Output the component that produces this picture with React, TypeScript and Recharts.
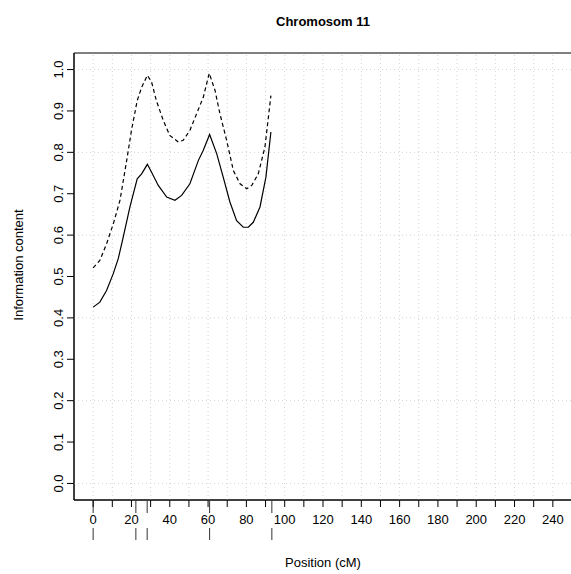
import React from 'react';
import { LineChart, Line, XAxis, YAxis, ReferenceLine, ReferenceArea } from 'recharts';

// information content along chromosome 11 (solid = lower curve, dashed = upper curve)
const solidPos = [0, 3.5, 7, 10.5, 13.1, 15.7, 19.2, 23, 25.3, 28.3, 30.5, 34, 38.4, 42.7, 46.2, 50.5, 54.9, 57.5, 60.8, 64.5, 67.9, 71.4, 74.9, 78.4, 81, 83.6, 87.1, 90.2, 92.8];
const solidInfo = [0.426, 0.438, 0.466, 0.507, 0.543, 0.595, 0.668, 0.736, 0.748, 0.771, 0.752, 0.72, 0.692, 0.684, 0.696, 0.724, 0.78, 0.805, 0.843, 0.797, 0.74, 0.68, 0.635, 0.619, 0.619, 0.631, 0.668, 0.74, 0.849];

const dashedPos = [0, 3.5, 7, 10.5, 14, 17.5, 20, 23, 25.3, 28.3, 30.5, 33, 36.6, 40, 44.5, 47, 50.5, 54, 57.5, 60.6, 63.6, 66.2, 69.7, 73.2, 76.7, 80.2, 82.8, 86.2, 89.7, 92.8];
const dashedInfo = [0.521, 0.539, 0.579, 0.627, 0.684, 0.78, 0.853, 0.925, 0.957, 0.986, 0.97, 0.925, 0.877, 0.841, 0.825, 0.829, 0.853, 0.893, 0.933, 0.991, 0.95, 0.893, 0.829, 0.756, 0.724, 0.712, 0.72, 0.748, 0.813, 0.937];

// marker positions drawn as a rug under the x axis
const markerPos = [0, 22.3, 28.2, 60.8, 93.3];

const xTicks = [0, 10, 20, 30, 40, 50, 60, 70, 80, 90, 100, 110, 120, 130, 140, 150, 160, 170, 180, 190, 200, 210, 220, 230, 240];
const yTicks = [0, 0.1, 0.2, 0.3, 0.4, 0.5, 0.6, 0.7, 0.8, 0.9, 1.0];
const gridX = [0, 10, 20, 30, 40, 50, 60, 70, 80, 90, 100, 110, 120, 130, 140, 150, 160, 170, 180, 190, 200, 210, 220, 230, 240];
const gridY = [0, 0.2, 0.4, 0.6, 0.8, 1.0];

const solidData = solidPos.map((pos, i) => ({ pos, info: solidInfo[i] }));
const dashedData = dashedPos.map((pos, i) => ({ pos, info: dashedInfo[i] }));

const FONT = '"Liberation Sans", Arial, sans-serif';
const X_DOMAIN: [number, number] = [-10, 250];
const Y_DOMAIN: [number, number] = [-0.04, 1.04];

const XTick = (props: any) => {
  const { x, y, payload } = props;
  if (payload.value % 20 !== 0) return <g />;
  return (
    <text x={x} y={y + 14} textAnchor="middle" fontSize={13} fontFamily={FONT} fill="#000">
      {payload.value}
    </text>
  );
};

const YTick = (props: any) => {
  const { x, y, payload } = props;
  const bx = x - 1;
  return (
    <text
      x={bx}
      y={y}
      transform={`rotate(-90 ${bx} ${y})`}
      textAnchor="middle"
      fontSize={13}
      fontFamily={FONT}
      fill="#000"
    >
      {payload.value.toFixed(1)}
    </text>
  );
};

// rug mark: two short segments below the axis, gap where the tick labels sit
const RugShape = (props: any) => {
  const { x1, y1, y2 } = props;
  const base = Math.max(y1, y2);
  return (
    <g stroke="#333" strokeWidth={1}>
      <line x1={x1} x2={x1} y1={base + 1} y2={base + 13} />
      <line x1={x1} x2={x1} y1={base + 28} y2={base + 40} />
    </g>
  );
};

const App: React.FC = () => {
  return (
    <div style={{ position: 'absolute', left: 0, top: 0, width: 571, height: 574, overflow: 'hidden', background: '#fff' }}>
      <LineChart
        width={580}
        height={574}
        margin={{ top: 53, right: 8, bottom: 0, left: 24 }}
        style={{ fontFamily: FONT }}
      >
        <XAxis
          dataKey="pos"
          type="number"
          domain={X_DOMAIN}
          ticks={xTicks}
          interval={0}
          height={74}
          tickSize={7}
          tickMargin={3}
          stroke="#000"
          tick={<XTick />}
        />
        <YAxis
          type="number"
          domain={Y_DOMAIN}
          ticks={yTicks}
          interval={0}
          width={50}
          tickSize={7}
          tickMargin={3}
          stroke="#000"
          tick={<YTick />}
        />
        {gridX.map((v) => (
          <ReferenceLine key={`gx-${v}`} x={v} stroke="#d3d3d3" strokeDasharray="1 3" />
        ))}
        {gridY.map((v) => (
          <ReferenceLine key={`gy-${v}`} y={v} stroke="#d3d3d3" strokeDasharray="1 3" />
        ))}
        <ReferenceArea
          x1={X_DOMAIN[0]}
          x2={X_DOMAIN[1]}
          y1={Y_DOMAIN[0]}
          y2={Y_DOMAIN[1]}
          fill="none"
          fillOpacity={0}
          stroke="#000"
          strokeWidth={1}
          ifOverflow="visible"
        />
        {markerPos.map((m) => (
          <ReferenceLine key={`rug-${m}`} x={m} ifOverflow="visible" shape={<RugShape />} />
        ))}
        <Line
          data={dashedData}
          dataKey="info"
          type="linear"
          stroke="#000"
          strokeWidth={1.2}
          strokeDasharray="4 3"
          dot={false}
          isAnimationActive={false}
        />
        <Line
          data={solidData}
          dataKey="info"
          type="linear"
          stroke="#000"
          strokeWidth={1.2}
          dot={false}
          isAnimationActive={false}
        />
        <text x={323} y={26} textAnchor="middle" fontSize={13} fontWeight="bold" fontFamily={FONT} fill="#000">
          Chromosom 11
        </text>
        <text x={323} y={567} textAnchor="middle" fontSize={13} fontFamily={FONT} fill="#000">
          Position (cM)
        </text>
        <text
          x={23}
          y={265}
          transform="rotate(-90 23 265)"
          textAnchor="middle"
          fontSize={13}
          fontFamily={FONT}
          fill="#000"
        >
          Information content
        </text>
      </LineChart>
    </div>
  );
};

export default App;
